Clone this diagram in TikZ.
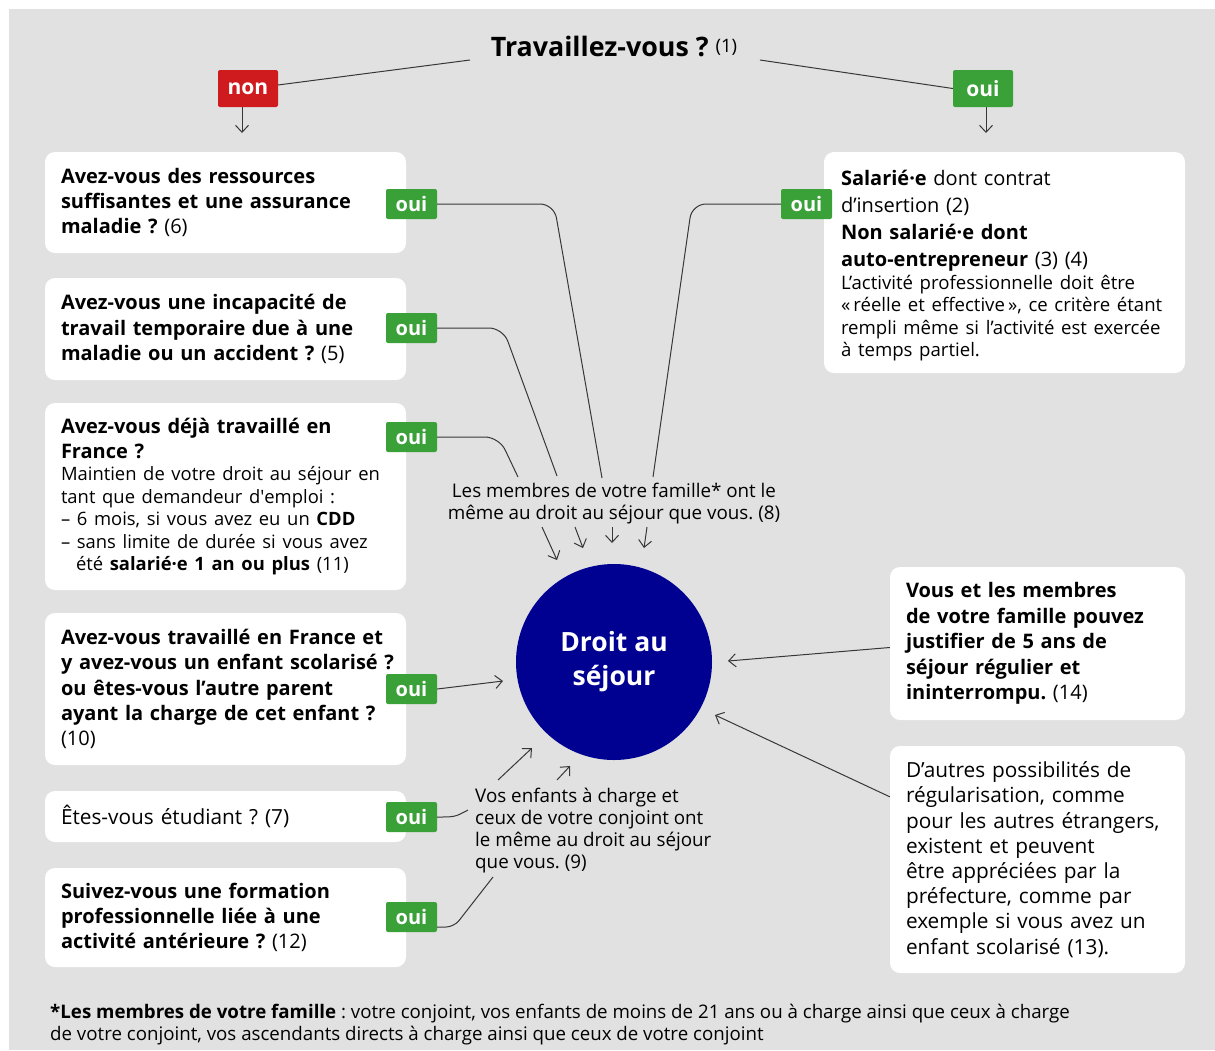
\documentclass[tikz,border=0pt]{standalone}
\usepackage{fontspec}
\setmainfont{Open Sans}
\frenchspacing
\usetikzlibrary{arrows.meta,calc}
\definecolor{bg}{RGB}{225,225,225}
\definecolor{ouig}{RGB}{58,160,56}
\definecolor{nonr}{RGB}{208,27,30}
\definecolor{dblue}{RGB}{0,0,145}
\definecolor{ln}{RGB}{55,55,55}
\begin{document}
\begin{tikzpicture}[x=1pt,y=-1pt,
  box/.style={fill=white, rounded corners=10pt, align=left, inner xsep=16pt, inner ysep=0pt, font=\fontsize{20}{25.4}\selectfont\bfseries},
  rbox/.style={box, font=\fontsize{20.8}{25.2}\selectfont},
  ouibox/.style={fill=ouig, text=white, rounded corners=2pt, minimum width=51pt, minimum height=30pt, inner sep=0pt, font=\fontsize{20}{22}\selectfont\bfseries},
  topbox/.style={rounded corners=2pt, text=white, minimum width=60pt, minimum height=37pt, inner sep=0pt, font=\fontsize{21}{24}\selectfont\bfseries},
  conn/.style={draw=ln, line width=1pt},
  arr/.style={conn, -{Straight Barb[length=7pt,width=13pt]}},
  small/.style={font=\fontsize{18.8}{22}\selectfont}
]
\useasboundingbox (0,0) rectangle (1215,1050);
\fill[bg] (9,9) rectangle (1215,1050);

% title
\node[font=\fontsize{26.8}{30}\selectfont\bfseries, inner sep=0pt] (t) at (614,46) {Travaillez-vous ?\hspace{7pt}\raisebox{4pt}{\fontsize{18.5}{20}\selectfont\mdseries (1)}};
\coordinate (tl) at (470,60);
\coordinate (tr) at (760,60);
\node[topbox, fill=nonr] (non) at (248,88.5) {non};
\node[topbox, fill=ouig] (ouiT) at (983,88.5) {oui};
\draw[conn] (tl) -- (278,85) coordinate (nonE);
\draw[conn] (tr) -- (ouiT.west);
\coordinate (na) at (242,133);
\coordinate (oa) at (986,133);
\draw[arr] (na |- non.south) -- (na);
\draw[arr] (oa |- ouiT.south) -- (oa);

% left boxes
\node[box, text width=329pt, minimum height=101pt] (q1) at (225.5,202.5) {Avez-vous des ressources\\ suffisantes et une assurance\\ maladie ? {\mdseries(6)}};
\node[box, text width=329pt, minimum height=102pt] (q2) at (225.5,329) {Avez-vous une incapacité de\\ travail temporaire due à une\\ maladie ou un accident ? {\mdseries(5)}};
\node[box, text width=329pt, minimum height=187pt] (q3) at (225.5,496.5) {Avez-vous déjà travaillé en\\ France ?\par
{\mdseries\fontsize{18.4}{22.5}\selectfont Maintien de votre droit au séjour en\\ tant que demandeur d\textquotesingle emploi :\\ – 6 mois, si vous avez eu un \textbf{CDD}\\ – sans limite de durée si vous avez\\ \hspace*{15pt}été \textbf{salarié·e 1 an ou plus} (11)\par}};
\node[box, text width=329pt, minimum height=152pt] (q4) at (225.5,689) {Avez-vous travaillé en France et\\ \mbox{y avez-vous un enfant scolarisé ?}\\ ou êtes-vous l’autre parent\\ ayant la charge de cet enfant ?\\ {\mdseries(10)}};
\node[rbox, text width=329pt, minimum height=51pt] (q5) at (225.5,816.5) {Êtes-vous étudiant ? (7)};
\node[box, text width=329pt, minimum height=99pt] (q6) at (225.5,917.5) {Suivez-vous une formation\\ professionnelle liée à une\\ activité antérieure ? {\mdseries(12)}};

\node[ouibox] (y1) at (411.5,204) {oui};
\node[ouibox] (y2) at (411.5,328) {oui};
\node[ouibox] (y3) at (411.5,437) {oui};
\node[ouibox] (y4) at (411.5,689) {oui};
\node[ouibox] (y5) at (411.5,817) {oui};
\node[ouibox] (y6) at (411.5,917) {oui};

% right boxes
\node[box, inner xsep=17pt, text width=327pt, minimum height=221pt] (r1) at (1004.5,262.5) {\fontsize{20}{27}\selectfont\rule{0pt}{22pt}\textbf{Salarié·e} \mdseries dont contrat\\ d’insertion (2)\\ \textbf{Non salarié·e dont}\\ \textbf{auto-entrepreneur} (3) (4)\par
{\mdseries\fontsize{18.6}{22.4}\selectfont L’activité professionnelle doit être\\ «\,réelle et effective\,», ce critère étant\\ rempli même si l’activité est exercée\\ à temps partiel.\par}};
\node[ouibox] (yR) at (806.5,204) {oui};
\node[box, text width=263pt, minimum height=153pt] (r2) at (1037.5,643.5) {Vous et les membres\\ de votre famille pouvez\\ justifier de 5 ans de\\ séjour régulier et\\ ininterrompu. {\mdseries(14)}};
\node[rbox, text width=263pt, minimum height=227pt] (r3) at (1037.5,859.5) {D’autres possibilités de\\ régularisation, comme\\ pour les autres étrangers,\\ existent et peuvent\\ être appréciées par la\\ préfecture, comme par\\ exemple si vous avez un\\ enfant scolarisé (13).};

% centre
\node[circle, fill=dblue, minimum size=196pt, inner sep=0pt, text=white, align=center, font=\fontsize{26.5}{34}\selectfont\bfseries] (dr) at (614,662) {Droit au\\ séjour};

\node[small, align=center, inner sep=0pt] (m8) at (614,504) {Les membres de votre famille* ont le\\ même au droit au séjour que vous. (8)};
\node[small, align=left, anchor=north west, inner sep=0pt] (m9) at (475,788) {Vos enfants à charge et\\ ceux de votre conjoint ont\\ le même au droit au séjour\\ que vous. (9)};

% connectors to m8
\coordinate (e1) at (602,478);
\coordinate (e2) at (557,476);
\coordinate (e3) at (518,477);
\coordinate (eR) at (653,477);
\draw[conn, rounded corners=14pt] (y1.east) -- (554,204) -- (e1);
\draw[conn, rounded corners=14pt] (y2.east) -- (503,328) -- (e2);
\draw[conn, rounded corners=14pt] (y3.east) -- (499,437) -- (e3);
\draw[conn, rounded corners=14pt] (yR.west) -- (692,204) -- (eR);

% arrows from m8 to circle
\coordinate (a1s) at (542,527); \coordinate (a1e) at (557,560);
\coordinate (a2s) at (575,527); \coordinate (a2e) at (583,548);
\coordinate (a3s) at (612,527); \coordinate (a3e) at (612,543);
\coordinate (a4s) at (647,527); \coordinate (a4e) at (644,548);
\draw[arr] (a1s) -- (a1e);
\draw[arr] (a2s) -- (a2e);
\draw[arr] (a3s) -- (a3e);
\draw[arr] (a4s) -- (a4e);

% lower left connectors
\coordinate (f4) at (503,681);
\draw[arr] (y4.east) -- (f4);
\coordinate (f5) at (468,810);
\draw[conn] (y5.east) .. controls (455,817) .. (f5);
\coordinate (f6) at (493,877);
\draw[conn, rounded corners=8pt] ($(y6.east)+(0,10)$) -- (454,927) -- (f6);
\coordinate (b1s) at (498,780); \coordinate (b1e) at (532,748);
\coordinate (b2s) at (557,780); \coordinate (b2e) at (570,766);
\draw[arr] (b1s) -- (b1e);
\draw[arr] (b2s) -- (b2e);

% right connectors
\coordinate (g2) at (728,661);
\coordinate (g3) at (715,715);
\draw[arr] ($(r2.west)+(0,4)$) -- (g2);
\draw[arr] ($(r3.north west)+(0,51)$) -- (g3);

% footnote
\node[small, font=\fontsize{18.7}{22}\selectfont, align=left, anchor=north west, inner sep=0pt] (fn) at (50,1004) {\textbf{*Les membres de votre famille} : votre conjoint, vos enfants de moins de 21 ans ou à charge ainsi que ceux à charge\\ de votre conjoint, vos ascendants directs à charge ainsi que ceux de votre conjoint};
\end{tikzpicture}
\end{document}
